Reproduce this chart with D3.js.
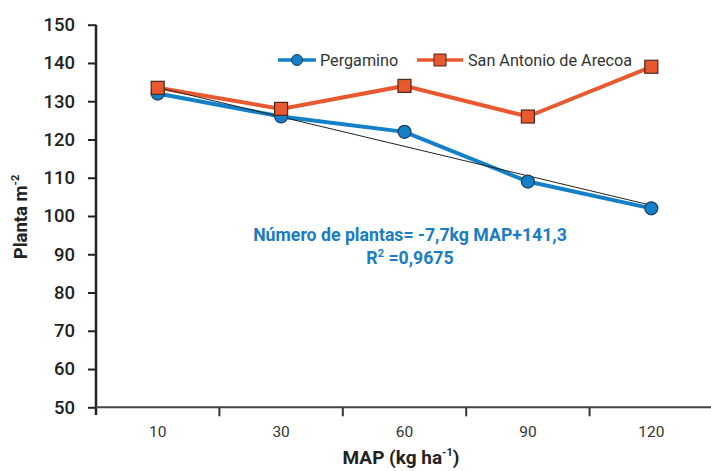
<!DOCTYPE html>
<html><head><meta charset="utf-8">
<script src="https://cdn.jsdelivr.net/npm/d3@7"></script>
<style>body{margin:0;background:#fff}svg{display:block;font-family:Roboto,"Noto Sans",sans-serif}</style>
</head><body><svg id="c" width="711" height="471"></svg>
<script>
const categories = ["10","30","60","90","120"];
const pergamino = [132, 126, 122, 109, 102];
const sanAntonio = [133.5, 128, 134, 126, 139];
const yTicks = [50,60,70,80,90,100,110,120,130,140,150];
const trendSlope = -7.7, trendIntercept = 141.3;

const svg = d3.select("#c");
const x = d3.scaleBand().domain(categories).range([96, 713]);
const y = d3.scaleLinear().domain([50,150]).range([407.3, 24.7]);
const blue = "#1380c8", orange = "#e8592f";

// y axis
const ya = svg.append("g").attr("transform","translate(96,0)")
  .call(d3.axisLeft(y).tickValues(yTicks).tickSize(8).tickPadding(13).tickSizeOuter(0));
ya.select(".domain").attr("stroke","#222").attr("stroke-width",2.5).attr("d","M0,24.7V415");
ya.selectAll(".tick line").attr("stroke","#222").attr("stroke-width",2);
ya.selectAll(".tick text").attr("fill","#222").attr("font-size",18.5).attr("font-weight",500).attr("font-family","Roboto");

// x axis
const xa = svg.append("g").attr("transform","translate(0,407.3)")
  .call(d3.axisBottom(x).tickSize(0).tickPadding(18.5));
xa.select(".domain").attr("stroke","#444").attr("stroke-width",2).attr("d","M96,0H713");
xa.selectAll(".tick text").attr("fill","#333").attr("font-size",15.5).attr("font-family","Roboto");
const bounds = categories.map(c => x(c)).concat([x(categories[4]) + x.bandwidth()]);
xa.selectAll(".bt").data(bounds.slice(1)).enter().append("line")
  .attr("x1",d=>d).attr("x2",d=>d).attr("y1",0).attr("y2",9)
  .attr("stroke","#333").attr("stroke-width",2);

const cx = c => x(c) + x.bandwidth()/2;

// series lines
const line = d3.line().x((d,i)=>cx(categories[i])).y(d=>y(d));
svg.append("path").datum(sanAntonio).attr("d",line).attr("fill","none").attr("stroke",orange).attr("stroke-width",4);
svg.append("path").datum(pergamino).attr("d",line).attr("fill","none").attr("stroke",blue).attr("stroke-width",4);

// trend line
const trend = categories.map((c,i)=>trendSlope*(i+1)+trendIntercept);
svg.append("path").datum([trend[0], trend[4]])
  .attr("d", d3.line().x((d,i)=>cx(categories[i*4])).y(d=>y(d)))
  .attr("fill","none").attr("stroke","#222").attr("stroke-width",1);

// markers
svg.selectAll(".pc").data(pergamino).enter().append("circle")
  .attr("cx",(d,i)=>cx(categories[i])).attr("cy",d=>y(d)).attr("r",6.5)
  .attr("fill",blue).attr("stroke","#1d3c5a").attr("stroke-width",1.2);
svg.selectAll(".sq").data(sanAntonio).enter().append("rect")
  .attr("x",(d,i)=>cx(categories[i])-6.5).attr("y",d=>y(d)-6.5).attr("width",13).attr("height",13)
  .attr("fill",orange).attr("stroke","#4a2a20").attr("stroke-width",1.2);

// legend
const lg = svg.append("g");
lg.append("line").attr("x1",278).attr("x2",316).attr("y1",60).attr("y2",60).attr("stroke",blue).attr("stroke-width",3.5);
lg.append("circle").attr("cx",297).attr("cy",60).attr("r",5.5).attr("fill",blue).attr("stroke","#1d3c5a").attr("stroke-width",1);
lg.append("text").attr("x",320).attr("y",65.5).text("Pergamino").attr("font-size",16.2).attr("fill","#333");
lg.append("line").attr("x1",417).attr("x2",463).attr("y1",60).attr("y2",60).attr("stroke",orange).attr("stroke-width",3.5);
lg.append("rect").attr("x",434).attr("y",54).attr("width",12).attr("height",12).attr("fill",orange).attr("stroke","#4a2a20").attr("stroke-width",1);
lg.append("text").attr("x",468).attr("y",65.5).text("San Antonio de Arecoa").attr("font-size",16.2).attr("fill","#333");

// annotation
svg.append("text").attr("text-anchor","middle").attr("fill","#1a7cc3").attr("font-weight",700).attr("font-size",17.7)
  .attr("x",410).attr("y",241).text("Número de plantas= -7,7kg MAP+141,3");
const r2 = svg.append("text").attr("text-anchor","middle").attr("fill","#1a7cc3").attr("font-weight",700).attr("font-size",17.7).attr("x",410).attr("y",264);
r2.append("tspan").text("R");
r2.append("tspan").attr("font-size",11).attr("dy",-7).text("2");
r2.append("tspan").attr("dy",7).text(" =0,9675");

// axis titles
const yt = svg.append("text").attr("transform","translate(26.5,217) rotate(-90)").attr("text-anchor","middle")
  .attr("font-weight",700).attr("font-size",18.5).attr("fill","#222");
yt.append("tspan").text("Planta m");
yt.append("tspan").attr("font-size",11).attr("dy",-8).text("-2");
const xt = svg.append("text").attr("x",401).attr("y",464).attr("text-anchor","middle")
  .attr("font-weight",700).attr("font-size",19).attr("fill","#222");
xt.append("tspan").text("MAP (kg ha");
xt.append("tspan").attr("font-size",11).attr("dy",-8).text("-1");
xt.append("tspan").attr("dy",8).text(")");
</script></body></html>
